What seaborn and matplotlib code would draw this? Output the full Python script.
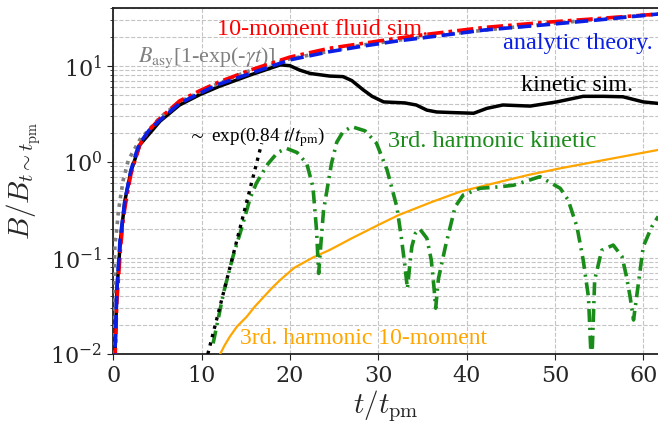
import matplotlib
matplotlib.use("Agg")
import matplotlib.pyplot as plt
import seaborn as sns
import numpy as np

# ---------------- data ----------------
t_theory = [0.05, 0.1, 0.19, 0.38, 0.76, 1.32, 2.0, 2.6, 3.0, 4.0, 5.3, 7.5, 9.8, 11.7,
            15.5, 20.0, 24.5, 28.3, 32.0, 36.0, 42.0, 49.0, 55.0, 61.7]
b_theory = [0.0015, 0.003, 0.01, 0.043, 0.153, 0.40, 0.82, 1.25, 1.56, 2.1, 2.72, 4.06, 5.17, 6.3,
            8.3, 11.5, 14.0, 16.0, 18.0, 20.0, 23.5, 26.7, 30.0, 34.5]

t_fluid = [0.05, 0.19, 0.4, 0.8, 1.13, 1.5, 2.0, 3.0, 4.0, 5.3, 7.5, 9.8, 12.0, 15.5, 20.0,
           24.5, 28.3, 32.0, 36.0, 42.0, 49.0, 55.0, 61.7]
b_fluid = [0.001, 0.008, 0.035, 0.12, 0.26, 0.42, 0.75, 1.5, 2.1, 2.85, 4.3, 5.5, 6.8, 9.0, 12.3,
           15.2, 17.1, 19.2, 21.5, 25.0, 28.3, 31.0, 34.5]

t_asy = [0.01, 0.05, 0.19, 0.38, 0.57, 0.76, 1.13, 1.7, 3.0, 5.3, 7.5, 10.6, 15.0, 20.0, 28.0,
         36.0, 45.0, 55.0, 61.7]
b_asy = [0.01, 0.05, 0.14, 0.195, 0.30, 0.40, 0.65, 1.04, 1.7, 2.9, 4.2, 5.8, 8.6, 11.8, 16.3,
         20.5, 25.0, 30.5, 34.5]

t_kin = [0.05, 0.19, 0.4, 0.8, 1.3, 2.0, 3.0, 5.3, 7.5, 9.8, 12.0, 15.5, 18.9, 20.0, 21.1, 22.3,
         24.5, 26.0, 27.0, 28.3, 29.3, 30.6, 33.0, 34.3, 35.5, 36.6, 38.5, 40.8, 42.3, 44.1,
         47.2, 50.2, 53.2, 55.5, 57.7, 60.0, 61.7]
b_kin = [0.0015, 0.01, 0.045, 0.15, 0.39, 0.8, 1.5, 2.65, 3.9, 5.0, 6.1, 8.0, 10.2, 10.0, 9.0, 8.3,
         7.8, 7.7, 7.0, 5.6, 4.8, 4.2, 4.1, 3.9, 3.45, 3.3, 3.25, 3.2, 3.6, 3.9,
         3.8, 4.2, 4.8, 4.8, 4.75, 4.2, 4.05]

t_fit = [10.7, 16.8]
b_fit = [0.01, 1.56]

t_h3_kin = [11.3, 12.5, 13.5, 14.5, 15.5, 16.2, 17.5, 18.6, 19.6, 20.8, 21.9, 22.6, 23.0, 23.25,
            23.5, 23.8, 24.7, 25.3, 26.0, 27.0, 28.5, 29.8, 31.0, 32.1, 32.6, 33.0, 33.3, 33.6,
            33.8, 34.2, 34.7, 35.5, 36.0, 36.3, 36.5, 36.8, 37.6, 38.7, 39.6, 41.5, 43.8, 45.3,
            48.3, 50.6, 51.5, 52.5, 53.2, 53.8, 54.15, 54.5, 55.3, 56.6, 57.6, 58.1, 58.5, 58.9,
            59.4, 60.0, 60.95, 61.7]
b_h3_kin = [0.0129, 0.044, 0.10, 0.20, 0.42, 0.60, 0.95, 1.25, 1.38, 1.25, 0.96, 0.55, 0.2, 0.069,
            0.14, 0.31, 0.96, 1.6, 2.05, 2.32, 2.1, 1.56, 0.82, 0.34, 0.166, 0.085, 0.048, 0.09,
            0.131, 0.18, 0.20, 0.16, 0.095, 0.05, 0.030, 0.06, 0.131, 0.34, 0.45, 0.53, 0.55, 0.57,
            0.70, 0.53, 0.40, 0.21, 0.095, 0.039, 0.007, 0.059, 0.12, 0.136, 0.103, 0.064, 0.04, 0.0226,
            0.05, 0.131, 0.21, 0.27]

t_h3_fluid = [12.1, 12.6, 13.2, 14.0, 15.1, 16.0, 17.0, 18.0, 18.9, 20.5, 22.6, 24.5, 27.0, 30.0,
              32.3, 36.0, 39.3, 43.8, 47.0, 50.6, 55.0, 61.7]
b_h3_fluid = [0.01, 0.0123, 0.0152, 0.0193, 0.0244, 0.031, 0.039, 0.049, 0.059, 0.079, 0.101, 0.121,
              0.160, 0.22, 0.279, 0.38, 0.49, 0.62, 0.73, 0.855, 1.02, 1.33]

labels = {
    "fluid": "10-moment fluid sim.",
    "theory": "analytic theory.",
    "kin": "kinetic sim.",
    "h3k": "3rd. harmonic kinetic",
    "h3f": "3rd. harmonic 10-moment",
    "asy": r"$B_{\rm asy}$[1-exp(-$\gamma t$)]",
    "fit": r"$\sim$ exp(0.84 $t/t_{\rm pm}$)",
}

# ---------------- style ----------------
sns.set_style("ticks")
plt.rcParams["font.family"] = ["DejaVu Serif"]
plt.rcParams["mathtext.fontset"] = "cm"
plt.rcParams["axes.unicode_minus"] = True

fig = plt.figure(figsize=(6.58, 4.23), dpi=100)
ax = fig.add_axes([0.1722, 0.1631, 0.8278, 0.8191])
ax.set_yscale("log")

def line(x, y, **kw):
    sns.lineplot(x=x, y=y, ax=ax, sort=False, estimator=None, **kw)
    return ax.lines[-1]

line(t_h3_fluid, b_h3_fluid, color="orange", linewidth=1.6, zorder=3)
l = line(t_h3_kin, b_h3_kin, color="#1a8c1a", linewidth=2.6, zorder=4)
l.set_linestyle((0, (3.6, 1.6, 0.6, 1.6)))
l = line(t_fit, b_fit, color="black", linewidth=2.4, zorder=5)
l.set_linestyle((0, (1, 1.6)))
line(t_kin, b_kin, color="black", linewidth=2.5, zorder=5)
l = line(t_asy, b_asy, color="gray", linewidth=2.6, zorder=6)
l.set_linestyle((0, (1, 1.4)))
l = line(t_fluid, b_fluid, color="red", linewidth=2.6, zorder=7)
l.set_linestyle((0, (4.5, 1.4, 1, 1.4)))
l = line(t_theory, b_theory, color="#0a1ee6", linewidth=2.6, zorder=8)
l.set_linestyle((0, (3.7, 1.6)))

ax.set_xlim(0, 61.67)
ax.set_ylim(0.01, 40.3)

ax.grid(True, which="major", linestyle="--", color="#c4c4c4", linewidth=0.8)
ax.grid(True, which="minor", axis="y", linestyle="--", color="#c4c4c4", linewidth=0.8)
ax.set_axisbelow(True)

for s in ["left", "bottom", "top"]:
    ax.spines[s].set_color("#222222")
    ax.spines[s].set_linewidth(1.3)
ax.spines["right"].set_visible(False)

ax.tick_params(axis="both", which="major", labelsize=16, direction="out", length=4.5, color="#222222")
ax.tick_params(axis="y", which="minor", direction="out", length=2.5, color="#222222")
ax.set_xticks([0, 10, 20, 30, 40, 50, 60])

ax.set_xlabel(r"$t/t_{\rm pm}$", fontsize=21, labelpad=1)
ax.set_ylabel(r"$B/B_{t\sim t_{\rm pm}}$", fontsize=21, labelpad=5)

tfont = dict(family=["Liberation Serif", "DejaVu Serif"], math_fontfamily="stix")
ax.text(11.7, 20.8, labels["fluid"], color="red", fontsize=17.5, ha="left", va="baseline", **tfont)
ax.text(44.15, 14.8, labels["theory"], color="#0a1ee6", fontsize=17.5, ha="left", va="baseline", **tfont)
ax.text(46.2, 5.5, labels["kin"], color="black", fontsize=17.3, ha="left", va="baseline", **tfont)
ax.text(31.1, 1.44, labels["h3k"], color="#1a8c1a", fontsize=17.5, ha="left", va="baseline", **tfont)
ax.text(14.35, 0.0127, labels["h3f"], color="orange", fontsize=17, ha="left", va="baseline", **tfont)
ax.text(2.83, 11.0, labels["asy"], color="gray", fontsize=15.8, ha="left", va="baseline", **tfont)
ax.text(8.5, 1.62, labels["fit"], color="black", fontsize=13.8, ha="left", va="baseline", **tfont)

fig.savefig("out.png", dpi=100)
